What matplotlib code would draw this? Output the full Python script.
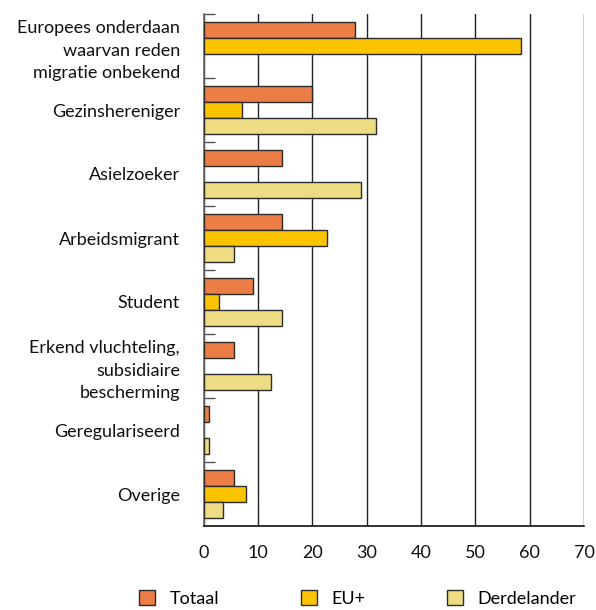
import numpy as np
import matplotlib.pyplot as plt

# data ------------------------------------------------------------------------
categories = ["Europees onderdaan\nwaarvan reden\nmigratie onbekend",
              "Gezinshereniger",
              "Asielzoeker",
              "Arbeidsmigrant",
              "Student",
              "Erkend vluchteling,\nsubsidiaire\nbescherming",
              "Geregulariseerd",
              "Overige"]

totaal      = [27.8, 19.9, 14.5, 14.5, 9.1, 5.7, 1.0, 5.7]
eu_plus     = [58.4, 7.1, np.nan, 22.8, 2.9, np.nan, np.nan, 7.8]
derdelander = [np.nan, 31.7, 29.0, 5.6, 14.5, 12.4, 1.0, 3.5]

series_names = ["Totaal", "EU+", "Derdelander"]
x_ticks = [0, 10, 20, 30, 40, 50, 60, 70]

# -----------------------------------------------------------------------------
plt.rcParams['font.family'] = ['Lato', 'DejaVu Sans']

fig = plt.figure(figsize=(5.96, 6.10), dpi=100)
ax = fig.add_axes([203.5 / 596, 84 / 610, (584 - 203.5) / 596, 512 / 610])

y = np.arange(len(categories))
h = 0.25
colors = ["#ED7D46", "#FCC400", "#EDDC82"]

for k, vals in enumerate([totaal, eu_plus, derdelander]):
    ax.barh(y + (k - 1) * h, vals, height=h, color=colors[k],
            edgecolor="#2b2b2b", linewidth=1.0, label=series_names[k],
            zorder=3)

ax.set_xlim(0, 70)
ax.set_ylim(len(categories) - 0.5, -0.5)

ax.set_xticks(x_ticks)
ax.set_xticklabels([str(t) for t in x_ticks])
ax.tick_params(axis='x', length=0, pad=14, labelsize=13, colors="#111111")
ax.xaxis.grid(True, color="#222222", linewidth=1.0, zorder=0)

ax.set_yticks(y)
ax.set_yticklabels(categories, linespacing=1.5)
ax.tick_params(axis='y', which='major', length=0, pad=17, labelsize=13,
               colors="#111111")

# little marks on the category boundaries
ax.set_yticks(np.arange(len(categories)) - 0.5, minor=True)
ax.tick_params(axis='y', which='minor', direction='in', length=8,
               width=1.0, color="#555555")

for side in ["top", "right"]:
    ax.spines[side].set_visible(False)
ax.spines["left"].set_color("#666666")
ax.spines["left"].set_linewidth(1.2)
ax.spines["bottom"].set_color("#111111")
ax.spines["bottom"].set_linewidth(1.2)

fig.legend(loc='lower center', bbox_to_anchor=(0.6, -0.022), ncol=3,
           frameon=False, fontsize=13, handlelength=0.9, handleheight=0.9,
           handletextpad=0.8, columnspacing=4.5)

fig.savefig("out.png", dpi=100)
